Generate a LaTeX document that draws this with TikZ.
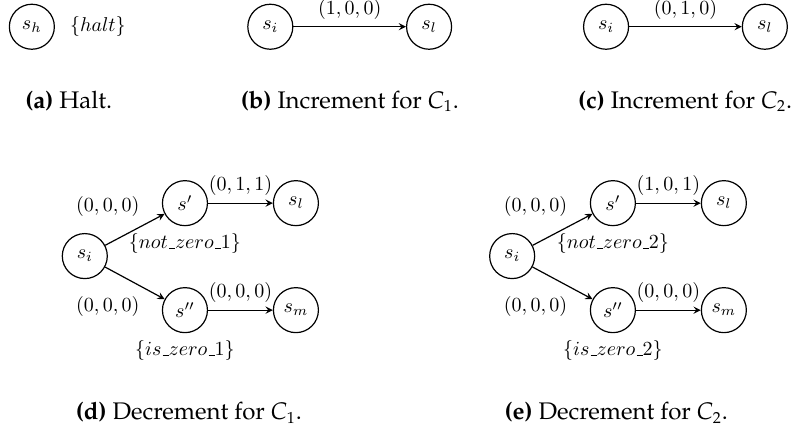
\documentclass[tikz,border=0pt]{standalone}
\usepackage[T1,TU]{fontenc}
\usepackage{amsmath, amssymb}
\usepackage{tikz}
\usetikzlibrary{positioning}
\newcommand{\capfont}{\fontencoding{T1}\fontfamily{ppl}\fontsize{12}{14}\selectfont}
\newcommand{\uscore}{\mathord{\kern.06em\vbox{\hrule width.3em}}}

\begin{document}
\begin{tikzpicture}[
    state/.style={draw, circle, semithick, minimum size=22.5pt, inner sep=0pt},
    trans/.style={->, >=stealth, semithick},
    subcap/.style={anchor=base, font=\capfont}
]
    \useasboundingbox (0,0) rectangle (13.97,-7.57);

    % (a) - halt state with its label
    \node[state] (ash) at (0.56,-0.47) {$s_h$};
    \node[right=4pt of ash] (ahalt) {$\{halt\}$};
    \node[subcap] (acap) at (1.21,-1.90) {\textbf{(a)} Halt.};

    % (b) - increment of the first counter
    \node[state] (bsi) at (4.75,-0.47) {$s_i$};
    \node[state] (bsl) at (7.54,-0.47) {$s_l$};
    \draw[trans] (bsi) -- node[above] {$(1,0,0)$} (bsl);
    \node[subcap] (bcap) at (6.15,-1.90) {\textbf{(b)} Increment for \textit{C}\textsubscript{1}.};

    % (c) - increment of the second counter
    \node[state] (csi) at (10.65,-0.47) {$s_i$};
    \node[state] (csl) at (13.44,-0.47) {$s_l$};
    \draw[trans] (csi) -- node[above] {$(0,1,0)$} (csl);
    \node[subcap] (ccap) at (12.04,-1.90) {\textbf{(c)} Increment for \textit{C}\textsubscript{2}.};

    % (d) - decrement of the first counter
    \node[state] (dsi) at (1.49,-4.50) {$s_i$};
    \node[state] (dsp) at (3.25,-3.57) {$s'$};
    \node[state] (dsl) at (5.20,-3.57) {$s_l$};
    \node[state] (dspp) at (3.25,-5.45) {$s''$};
    \node[state] (dsm) at (5.20,-5.45) {$s_m$};
    \node[below=0pt of dsp] (dnz) {$\{not\uscore zero\uscore 1\}$};
    \node[below=0pt of dspp] (diz) {$\{is\uscore zero\uscore 1\}$};
    \draw[trans] (dsi) -- node[pos=0.7, above left] {$(0,0,0)$} (dsp);
    \draw[trans] (dsi) -- node[pos=0.7, below left] {$(0,0,0)$} (dspp);
    \draw[trans] (dsp) -- node[above] {$(0,1,1)$} (dsl);
    \draw[trans] (dspp) -- node[above] {$(0,0,0)$} (dsm);
    \node[subcap] (dcap) at (3.32,-7.38) {\textbf{(d)} Decrement for \textit{C}\textsubscript{1}.};

    % (e) - decrement of the second counter
    \node[state] (esi) at (9.00,-4.50) {$s_i$};
    \node[state] (esp) at (10.77,-3.57) {$s'$};
    \node[state] (esl) at (12.72,-3.57) {$s_l$};
    \node[state] (espp) at (10.77,-5.45) {$s''$};
    \node[state] (esm) at (12.72,-5.45) {$s_m$};
    \node[below=0pt of esp] (enz) {$\{not\uscore zero\uscore 2\}$};
    \node[below=0pt of espp] (eiz) {$\{is\uscore zero\uscore 2\}$};
    \draw[trans] (esi) -- node[pos=0.7, above left] {$(0,0,0)$} (esp);
    \draw[trans] (esi) -- node[pos=0.7, below left] {$(0,0,0)$} (espp);
    \draw[trans] (esp) -- node[above] {$(1,0,1)$} (esl);
    \draw[trans] (espp) -- node[above] {$(0,0,0)$} (esm);
    \node[subcap] (ecap) at (10.83,-7.38) {\textbf{(e)} Decrement for \textit{C}\textsubscript{2}.};
\end{tikzpicture}
\end{document}
